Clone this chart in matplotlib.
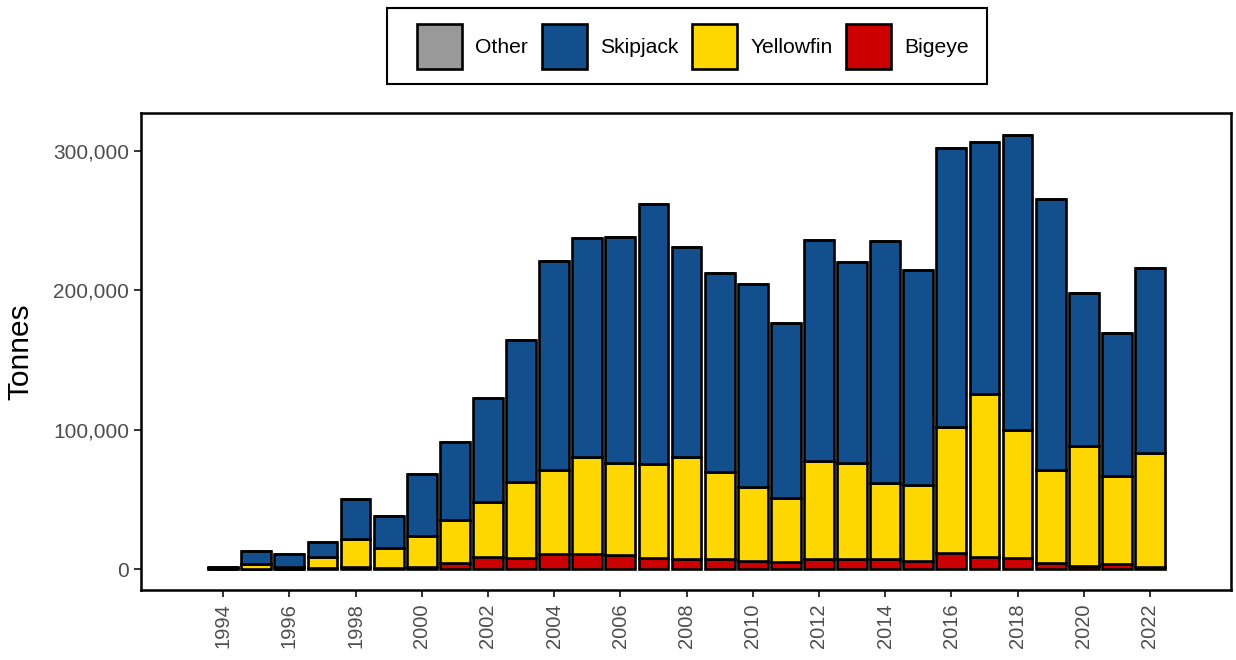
import numpy as np
import matplotlib
matplotlib.use("Agg")
import matplotlib.pyplot as plt
from matplotlib.patches import Rectangle
from matplotlib.ticker import FuncFormatter

plt.rcParams['font.family'] = ['Liberation Sans', 'DejaVu Sans']

years = list(range(1994, 2023))

# catch by species (tonnes)
bigeye = [200, 300, 300, 800, 1500, 1000, 1500, 4000, 8500, 7700,
          10800, 10500, 10000, 8100, 7000, 7000, 6000, 5300, 7000, 7000,
          7000, 6000, 11700, 8800, 8100, 4000, 2500, 3500, 1500]
yellowfin_top = [600, 3600, 1500, 8800, 21700, 15300, 23600, 35100, 47800, 62100,
                 71000, 80000, 76200, 75000, 80000, 69300, 59000, 50700, 77200, 75800,
                 61400, 60200, 101600, 125400, 99600, 71000, 88100, 66600, 83400]
total = [1500, 13100, 10700, 19100, 50000, 38300, 68100, 91000, 122600, 164100,
         220700, 237200, 238000, 261600, 230800, 212100, 204300, 176300, 235800, 220000,
         235100, 214300, 301700, 306000, 311000, 265200, 197800, 169100, 215700]
other = [0] * len(years)

bigeye = np.array(bigeye)
yellowfin = np.array(yellowfin_top) - bigeye
skipjack = np.array(total) - np.array(yellowfin_top)
other = np.array(other)

col_other = '#999999'
col_skj = '#124F8C'
col_yft = '#FFD700'
col_bet = '#CC0000'

fig = plt.figure(figsize=(12.36, 6.6), dpi=100)
ax = fig.add_axes([0.1141, 0.1061, 0.8819, 0.7227])

kw = dict(width=0.9, edgecolor='black', linewidth=1.9)
ax.bar(years, bigeye, color=col_bet, label='Bigeye', **kw)
ax.bar(years, yellowfin, bottom=bigeye, color=col_yft, label='Yellowfin', **kw)
ax.bar(years, skipjack, bottom=bigeye + yellowfin, color=col_skj, label='Skipjack', **kw)
ax.bar(years, other, bottom=bigeye + yellowfin + skipjack, color=col_other, label='Other', **kw)

ax.set_xlim(1991.52, 2024.45)
ax.set_ylim(-15000, 326900)
ax.set_xticks(range(1994, 2023, 2))
ax.set_xticklabels([str(y) for y in range(1994, 2023, 2)], rotation=90)
ax.set_yticks([0, 100000, 200000, 300000])
ax.yaxis.set_major_formatter(FuncFormatter(lambda v, p: f'{int(v):,}'))
ax.tick_params(axis='both', labelsize=14.5, labelcolor='#4D4D4D', color='#333333',
               length=5, width=1.4)
ax.tick_params(axis='y', labelsize=15, pad=3.5)
ax.tick_params(axis='x', pad=4.5)
ax.set_ylabel('Tonnes', fontsize=21.5)
ax.yaxis.set_label_coords(-0.098, 0.5)

for s in ax.spines.values():
    s.set_linewidth(1.8)

h, l = ax.get_legend_handles_labels()
order = [3, 2, 1, 0]
leg = fig.legend([h[i] for i in order], [l[i] for i in order], loc='center',
                 bbox_to_anchor=(0.5607, 0.9295), ncol=4, fontsize=15.2,
                 handlelength=2.13, handleheight=2.9, handletextpad=0.62,
                 columnspacing=0.66, borderpad=0.3, frameon=False)
fig.patches.append(Rectangle((387 / 1236, 1 - 84 / 660), 600 / 1236, 76 / 660,
                             transform=fig.transFigure, fill=False,
                             edgecolor='black', linewidth=1.5))

fig.savefig('out.png', dpi=100)
